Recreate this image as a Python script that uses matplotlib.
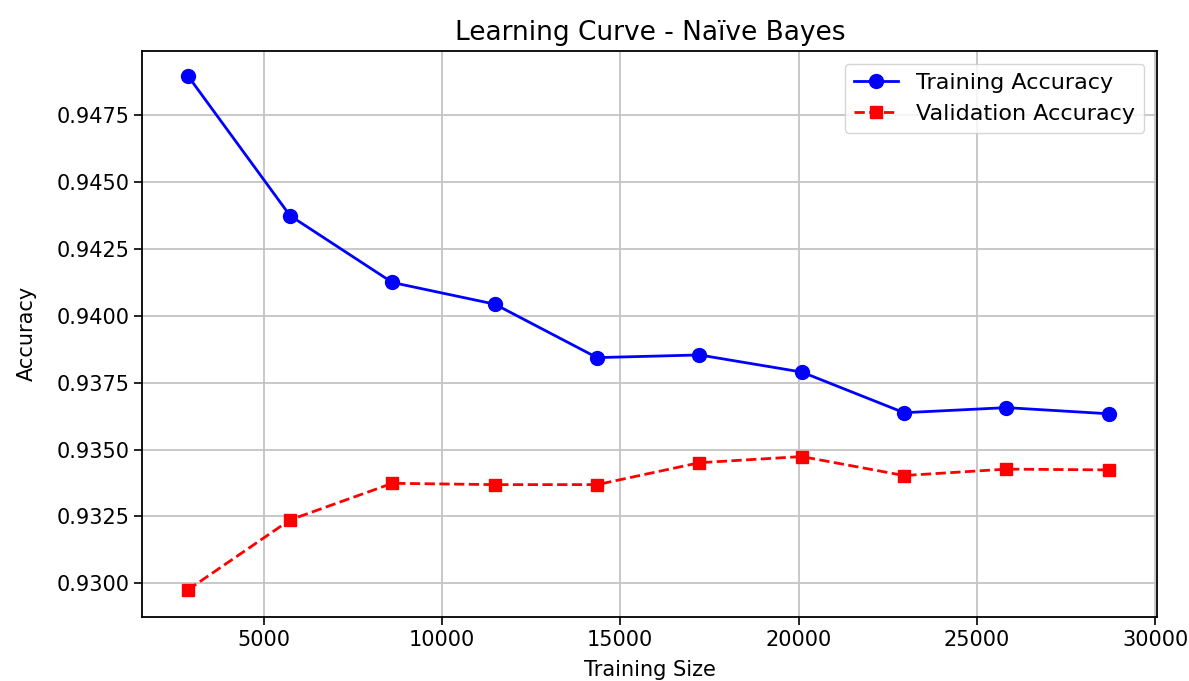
import matplotlib
matplotlib.use('Agg')
import matplotlib.pyplot as plt

# data
train_sizes = [2870, 5740, 8610, 11480, 14350, 17220, 20090, 22960, 25830, 28700]
train_acc = [0.94899, 0.94375, 0.94125, 0.94044, 0.93844, 0.93854, 0.93790, 0.93638, 0.93657, 0.93634]
val_acc = [0.92975, 0.93237, 0.93374, 0.93369, 0.93369, 0.93451, 0.93474, 0.93403, 0.93427, 0.93424]

xticks = [5000, 10000, 15000, 20000, 25000, 30000]
yticks = [0.9300, 0.9325, 0.9350, 0.9375, 0.9400, 0.9425, 0.9450, 0.9475]

fig = plt.figure(figsize=(11.89, 6.81), dpi=100)
ax = fig.add_axes([0.1197, 0.094, 0.8537, 0.8316])

ax.plot(train_sizes, train_acc, 'o-', color='blue', markersize=10, linewidth=2, label='Training Accuracy')
ax.plot(train_sizes, val_acc, 's--', color='red', markersize=8.5, linewidth=2, label='Validation Accuracy')

ax.set_xlim(1598, 30062)
ax.set_ylim(0.92874, 0.94992)

ax.set_title('Learning Curve - Naïve Bayes', fontsize=19, pad=8)
ax.set_xlabel('Training Size', fontsize=15, labelpad=7)
ax.set_ylabel('Accuracy', fontsize=15, labelpad=14)
ax.tick_params(labelsize=15, length=6, width=1.2)
ax.set_xticks(xticks)
ax.set_yticks(yticks)
ax.set_yticklabels(['%.4f' % t for t in yticks])
for s in ax.spines.values():
    s.set_linewidth(1.3)
ax.grid(True, linewidth=1.3, color='#c4c4c4')
ax.legend(fontsize=16, loc='upper right', borderaxespad=0.6)

fig.savefig('out.png', dpi=100)
